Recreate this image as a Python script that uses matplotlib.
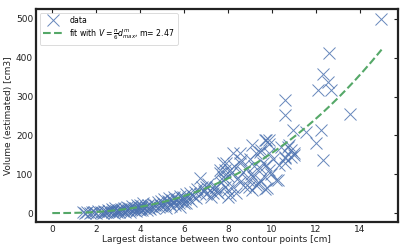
import numpy as np
import matplotlib
matplotlib.use("Agg")
import matplotlib.pyplot as plt

d_max = [1.4, 1.5, 1.6, 1.7, 1.8, 1.9, 2.0, 2.1, 2.2, 2.3, 2.35, 2.4, 2.5, 2.55, 2.6, 2.7, 2.7, 2.75, 2.8, 2.85,
         2.9, 2.95, 3.0, 3.05, 3.1,
         3.15, 3.2, 3.25, 3.3, 3.35, 3.4, 3.45, 3.5, 3.55, 3.6, 3.65, 3.7, 3.75, 3.8, 3.85, 3.9, 3.95, 4.0, 4.0,
         4.05, 4.1, 4.1, 4.15, 4.2, 4.25, 4.3, 4.35, 4.4, 4.45, 4.5,
         4.6, 4.65, 4.7, 4.8, 4.85, 4.9, 4.95, 5.0, 5.05, 5.1, 5.15, 5.2, 5.25, 5.3, 5.35, 5.4, 5.45, 5.5, 5.55,
         5.6, 5.65, 5.7, 5.75, 5.8, 5.8, 5.85, 5.9, 5.95, 6.0, 6.05, 6.1, 6.11, 6.2, 6.26, 6.3,
         6.4, 6.5, 6.55, 6.6, 6.71, 6.75, 6.8, 6.9, 7.0, 7.02, 7.1, 7.17, 7.25, 7.32, 7.4, 7.47, 7.5, 7.55,
         7.62, 7.62,
         7.7, 7.77, 7.77, 7.77, 7.85, 7.85, 7.93, 8.0, 8.0, 8.0, 8.08, 8.08, 8.15, 8.23, 8.23, 8.3, 8.38, 8.45,
         8.53, 8.53, 8.53, 8.61, 8.7, 8.76, 8.85, 8.91, 8.98, 9.0, 9.05,
         9.1, 9.11, 9.14, 9.2, 9.29, 9.3, 9.35, 9.44, 9.44, 9.44, 9.52, 9.6, 9.67, 9.67, 9.7, 9.74, 9.74, 9.8,
         9.86, 9.89, 9.89, 9.89, 9.95, 10.05, 10.2, 10.27, 10.35, 10.4, 10.58, 10.58, 10.58, 10.58, 10.62,
         10.73, 10.8, 10.88, 10.88, 10.95, 11.03, 11.03,
         11.56, 12.02, 12.09, 12.25, 12.32, 12.35, 12.54, 12.62, 12.70, 13.58, 14.97]
volume = [2, 0, 3, 1, 4, 2, 0, 5, 3, 1, 6, 4, 2, 8, 5, 3, 10, 7, 1, 12,
          6, 4, 9, 2, 7,
          11, 5, 14, 3, 9, 16, 7, 12, 4, 10, 18, 8, 14, 6, 20, 11, 15, 9, 22,
          13, 7, 18, 25, 12, 16, 8, 20, 14, 10, 17,
          24, 13, 20, 28, 16, 22, 32, 18, 26, 35, 21, 14, 30, 38, 24, 17, 33, 28, 42,
          22, 33, 36, 27, 16, 45, 30, 40, 42, 25, 35, 48, 25, 38, 51, 32,
          45, 55, 40, 62, 89, 50, 68, 58, 48, 68, 75, 59, 42, 51, 64, 68, 55, 51,
          102, 111,
          80, 128, 85, 93, 68, 111, 128, 59, 95, 42, 46, 111, 102, 68, 154, 120, 51, 90,
          80, 128, 154, 136, 105, 68, 115, 85, 68, 140, 100,
          59, 175, 93, 120, 154, 72, 75, 85, 115, 158, 162, 130, 93, 188, 63, 123, 188, 65,
          188, 111, 154, 179, 100, 140, 85, 85, 123, 170, 128, 141, 145, 252, 291,
          171, 175, 162, 145, 214, 149, 154,
          209, 181, 318, 214, 136, 359, 338, 412, 318, 256, 499]

# fitted exponent from the legend
m_fit = 2.47

d_fit = np.linspace(0, 15, 200)
v_fit = np.pi / 6 * d_fit ** m_fit

plt.rcParams['font.family'] = 'DejaVu Sans'
fig = plt.figure(figsize=(4.07, 2.52), dpi=100)
ax = fig.add_axes([0.088, 0.119, 0.89, 0.845])

ax.plot(d_max, volume, 'x', color='#4c72b0', ms=9, mew=0.7, alpha=0.85, label='data')
ax.plot(d_fit, v_fit, '--', color='#55a868', lw=1.5,
        label=r'fit with $V=\frac{\pi}{6}d_{max}^{m}$, m= 2.47')

ax.set_xlim(-0.75, 15.75)
ax.set_ylim(-23, 525)
ax.set_xticks([0, 2, 4, 6, 8, 10, 12, 14])
ax.set_yticks([0, 100, 200, 300, 400, 500])

ax.set_xlabel('Largest distance between two contour points [cm]', fontsize=6.5, labelpad=1, color='#222222')
ax.set_ylabel('Volume (estimated) [cm3]', fontsize=6.5, labelpad=2, color='#222222')

for s in ax.spines.values():
    s.set_linewidth(1.6)
    s.set_color('#222222')

ax.tick_params(axis='both', labelsize=6.5, colors='#222222', pad=2)
# only the top/right ticks are visible in the original
ax.tick_params(top=True, right=True, bottom=False, left=False, direction='in', length=3, width=0.8,
               labeltop=False, labelright=False, labelbottom=True, labelleft=True)

leg = ax.legend(loc='upper left', fontsize=5.6, frameon=True, fancybox=True,
                borderpad=0.4, handlelength=2.6, labelspacing=0.25)
leg.get_frame().set_edgecolor('#cccccc')
leg.get_frame().set_linewidth(0.6)

fig.savefig('out.png', dpi=100)
